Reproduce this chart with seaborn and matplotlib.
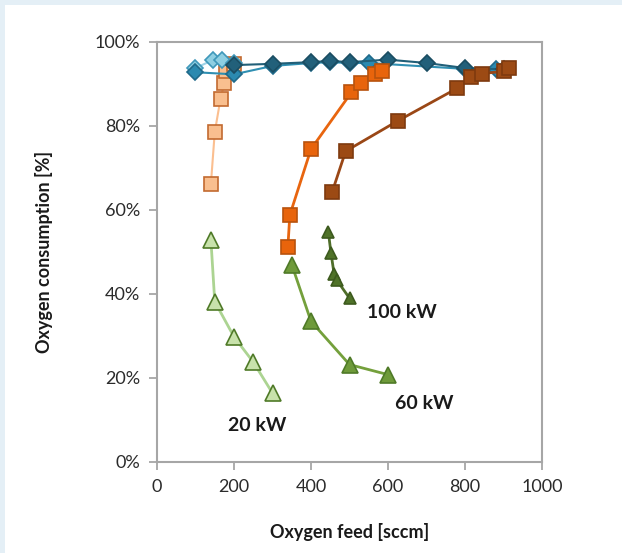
import matplotlib
matplotlib.use("Agg")
import matplotlib.pyplot as plt
import matplotlib.patches as mpatches
from matplotlib.ticker import FuncFormatter
import pandas as pd
import seaborn as sns

# === data ===
# O2 consumption, squares
sq20_x = [140, 150, 165, 175, 180, 200]
sq20_y = [66.2, 78.5, 86.5, 90.2, 93.0, 94.8]
sq60_x = [340, 345, 400, 505, 530, 565, 585]
sq60_y = [51.3, 58.8, 74.5, 88.0, 90.2, 92.5, 93.0]
sq100_x = [455, 490, 625, 780, 815, 845, 900, 915]
sq100_y = [64.3, 74.0, 81.2, 89.0, 91.6, 92.5, 93.0, 93.8]

# diamonds
dm20_x = [100, 145, 170, 200]
dm20_y = [93.8, 95.7, 95.7, 95.0]
dm60_x = [100, 200, 300, 400, 450, 500, 550, 800, 880]
dm60_y = [92.8, 92.3, 94.3, 95.0, 95.2, 95.0, 95.0, 93.6, 93.6]
dm100_x = [200, 300, 400, 450, 500, 600, 700, 800, 900]
dm100_y = [94.5, 94.8, 95.2, 95.5, 95.2, 95.8, 95.0, 93.8, 93.5]

# triangles
tr20_x = [140, 150, 200, 250, 300]
tr20_y = [52.9, 38.2, 29.8, 23.8, 16.4]
tr60_x = [350, 400, 500, 600]
tr60_y = [47.0, 33.5, 23.2, 20.8]
tr100_x = [445, 452, 460, 467, 500]
tr100_y = [54.8, 49.7, 44.8, 43.3, 39.0]

labels = ["20 kW", "60 kW", "100 kW"]
label_x = [260, 693, 636]
label_y = [8.6, 13.9, 35.5]

sns.set_theme(style="white")
plt.rcParams['font.family'] = ['Lato', 'DejaVu Sans']

fig = plt.figure(figsize=(6.22, 5.53), dpi=100, facecolor='#e4eff6')
# white panel (behind the axes)
fig.add_artist(mpatches.Rectangle((5 / 622, 0), 1, 1 - 5 / 553,
                                  transform=fig.transFigure,
                                  facecolor='white', edgecolor='none', zorder=-10))
ax = fig.add_axes([157 / 622, 91 / 553, 385 / 622, 420 / 553])
ax.set_zorder(5)
ax.set_facecolor('white')

series = [
    (sq20_x, sq20_y, 's', 10, '#fbbf90', '#f9bf8f', '#c26a30', 1.5),
    (dm20_x, dm20_y, 'D', 8, '#9fd3e6', '#8ecfe2', '#3f98ba', 1.5),
    (dm60_x, dm60_y, 'D', 8, '#2f8fb2', '#2b8ab0', '#1f6a8a', 1.5),
    (dm100_x, dm100_y, 'D', 8.5, '#215f78', '#22607a', '#1a4d62', 1.5),
    (sq60_x, sq60_y, 's', 10, '#e8650f', '#e8640c', '#b8520d', 2),
    (sq100_x, sq100_y, 's', 10, '#9a4716', '#9c4a14', '#7e3a0e', 2),
    (tr20_x, tr20_y, '^', 11, '#acd492', '#c8e2ab', '#4f7a28', 2),
    (tr60_x, tr60_y, '^', 11, '#74a03c', '#6e9a3a', '#4f7a28', 2),
    (tr100_x, tr100_y, '^', 8.5, '#4f6e2a', '#4f7228', '#3d5a1e', 2),
]

for xs, ys, mk, ms, lc, fc, ec, lw in series:
    df = pd.DataFrame({'feed': xs, 'cons': ys})
    sns.lineplot(data=df, x='feed', y='cons', ax=ax, sort=False, estimator=None,
                 color=lc, linewidth=lw, marker=mk, markersize=ms,
                 markerfacecolor=fc, markeredgecolor=ec, markeredgewidth=1.2)

for t, x, y in zip(labels, label_x, label_y):
    ax.text(x, y, t, ha='center', va='center', fontsize=14, fontweight='bold',
            color='#1a1a1a')

ax.set_xlim(0, 1000)
ax.set_ylim(0, 100)
ax.set_xticks([0, 200, 400, 600, 800, 1000])
ax.set_yticks([0, 20, 40, 60, 80, 100])
ax.yaxis.set_major_formatter(FuncFormatter(lambda v, p: f'{v:.0f}%'))

for s in ax.spines.values():
    s.set_color('#a6a6a6')
    s.set_linewidth(1.5)
ax.tick_params(axis='both', which='major', direction='out', length=6, width=1.3,
               color='#a6a6a6', labelsize=13, labelcolor='#2b2b2b', pad=6,
               bottom=True, left=True)

ax.set_xlabel('Oxygen feed [sccm]', fontsize=13, fontweight='bold', color='#1a1a1a')
ax.set_ylabel('Oxygen consumption [%]', fontsize=13, fontweight='bold', color='#1a1a1a')
ax.xaxis.set_label_coords(0.5, -0.145)
ax.yaxis.set_label_coords(-0.27, 0.5)
if ax.get_legend():
    ax.get_legend().remove()

fig.savefig('out.png', dpi=100, facecolor=fig.get_facecolor())
